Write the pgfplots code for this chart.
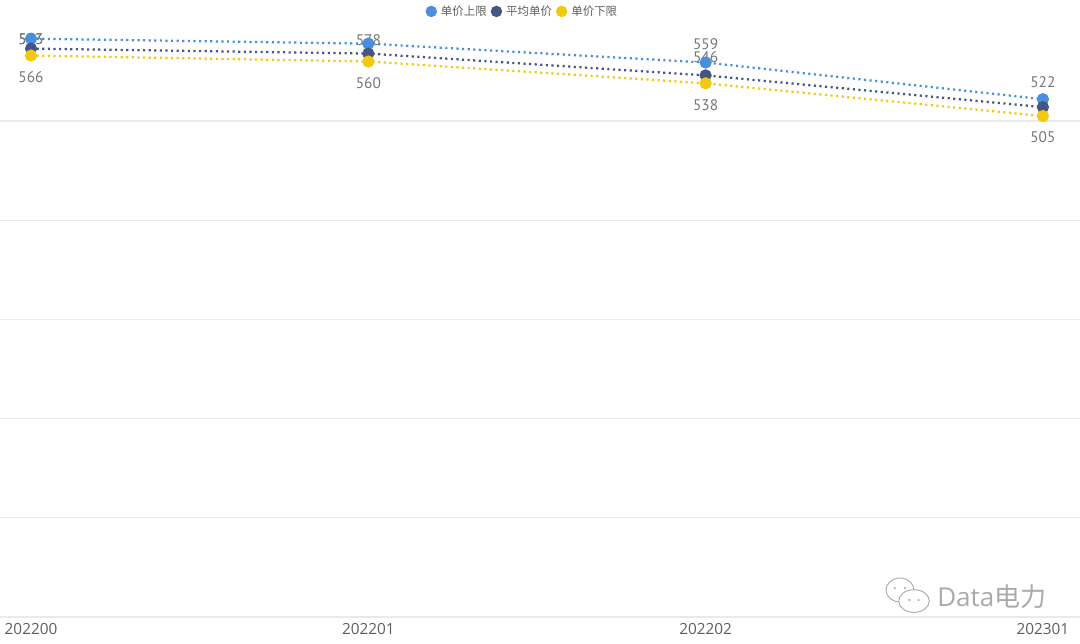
\documentclass[border=0pt]{standalone}
\usepackage{pgfplots}
\pgfplotsset{compat=1.18}
\usepackage{fontspec}
\setmainfont{Open Sans}
\newfontfamily\cjk{Noto Sans CJK SC}
\newfontfamily\lblfont{PT Sans}
\definecolor{cUp}{RGB}{74,143,222}
\definecolor{cAvg}{RGB}{70,86,130}
\definecolor{cLow}{RGB}{242,200,17}
\definecolor{cTick}{RGB}{96,94,92}
\definecolor{cLbl}{RGB}{118,118,118}
\definecolor{cGrid}{RGB}{234,234,234}
\definecolor{cWm}{RGB}{170,170,170}
\tikzset{lbl/.style={font=\lblfont\fontsize{11.5pt}{12pt}\selectfont, text=cLbl, inner sep=0pt}}
\begin{document}
\begin{tikzpicture}
\path[use as bounding box] (0,-19.5pt) rectangle (810pt,482.25pt-19.5pt);
\begin{axis}[
  at={(0,0)}, anchor=south west,
  scale only axis, width=810pt, height=462.75pt,
  xmin=-0.092, xmax=3.11, ymin=0, ymax=622,
  xtick={0,1,2,3}, xticklabels={202200,202201,202202,202301},
  ytick={0,100,200,300,400,500}, yticklabels={},
  ymajorgrids, grid style={cGrid, line width=0.9pt},
  axis line style={draw=none}, major tick length=0pt,
  xticklabel style={font=\fontsize{11.5pt}{12pt}\selectfont, text=cTick, yshift=-1pt},
  clip=false,
  legend style={at={(0.484,1)}, anchor=north, yshift=-2pt, draw=none, fill=none,
    font=\cjk\fontsize{8.6pt}{10pt}\selectfont, text=cTick,
    column sep=1pt, inner sep=0pt},
  legend columns=3,
  legend image code/.code={\fill[#1,solid] (0.12cm,0) circle (3.4pt);},
  every axis plot/.append style={line width=1.7pt, dash pattern=on 1.6pt off 2.6pt, mark=*, mark size=3.7pt, mark options={solid}},
]
% labels drawn first (behind markers)
\node[lbl] at (axis cs:0,583) {583};
\node[lbl] at (axis cs:0,573) [yshift=7pt] {573};
\node[lbl] at (axis cs:1,578) [yshift=2.5pt] {578};
\node[lbl] at (axis cs:2,559) [yshift=13.5pt] {559};
\node[lbl] at (axis cs:2,546) [yshift=13.5pt] {546};
\node[lbl] at (axis cs:3,522) [yshift=13pt] {522};
\node[lbl] at (axis cs:0,566) [yshift=-16pt] {566};
\node[lbl] at (axis cs:1,560) [yshift=-16pt] {560};
\node[lbl] at (axis cs:2,538) [yshift=-16pt] {538};
\node[lbl] at (axis cs:3,505) [yshift=-16pt] {505};
\addplot[color=cUp] coordinates {(0,583) (1,578) (2,559) (3,522)};
\addlegendentry{单价上限}
\addplot[color=cAvg] coordinates {(0,573) (1,568) (2,546) (3,514)};
\addlegendentry{平均单价}
\addplot[color=cLow] coordinates {(0,566) (1,560) (2,538) (3,505)};
\addlegendentry{单价下限}
% watermark
\node[anchor=west, inner sep=0pt, text=cWm, font=\fontsize{19.5pt}{20pt}\selectfont] at (rel axis cs:0.8676,0.0324) {Data{\cjk 电力}};
\draw[cWm, line width=0.7pt, fill=white] (rel axis cs:0.8333,0.0438) ellipse (10.5pt and 9pt);
\fill[cWm] (rel axis cs:0.8285,0.0470) circle (0.9pt);
\fill[cWm] (rel axis cs:0.8380,0.0470) circle (0.9pt);
\draw[cWm, line width=0.7pt, fill=white] (rel axis cs:0.8463,0.0259) ellipse (11.5pt and 8.5pt);
\fill[cWm] (rel axis cs:0.8420,0.0275) circle (0.9pt);
\fill[cWm] (rel axis cs:0.8505,0.0275) circle (0.9pt);
\end{axis}
\end{tikzpicture}
\end{document}
